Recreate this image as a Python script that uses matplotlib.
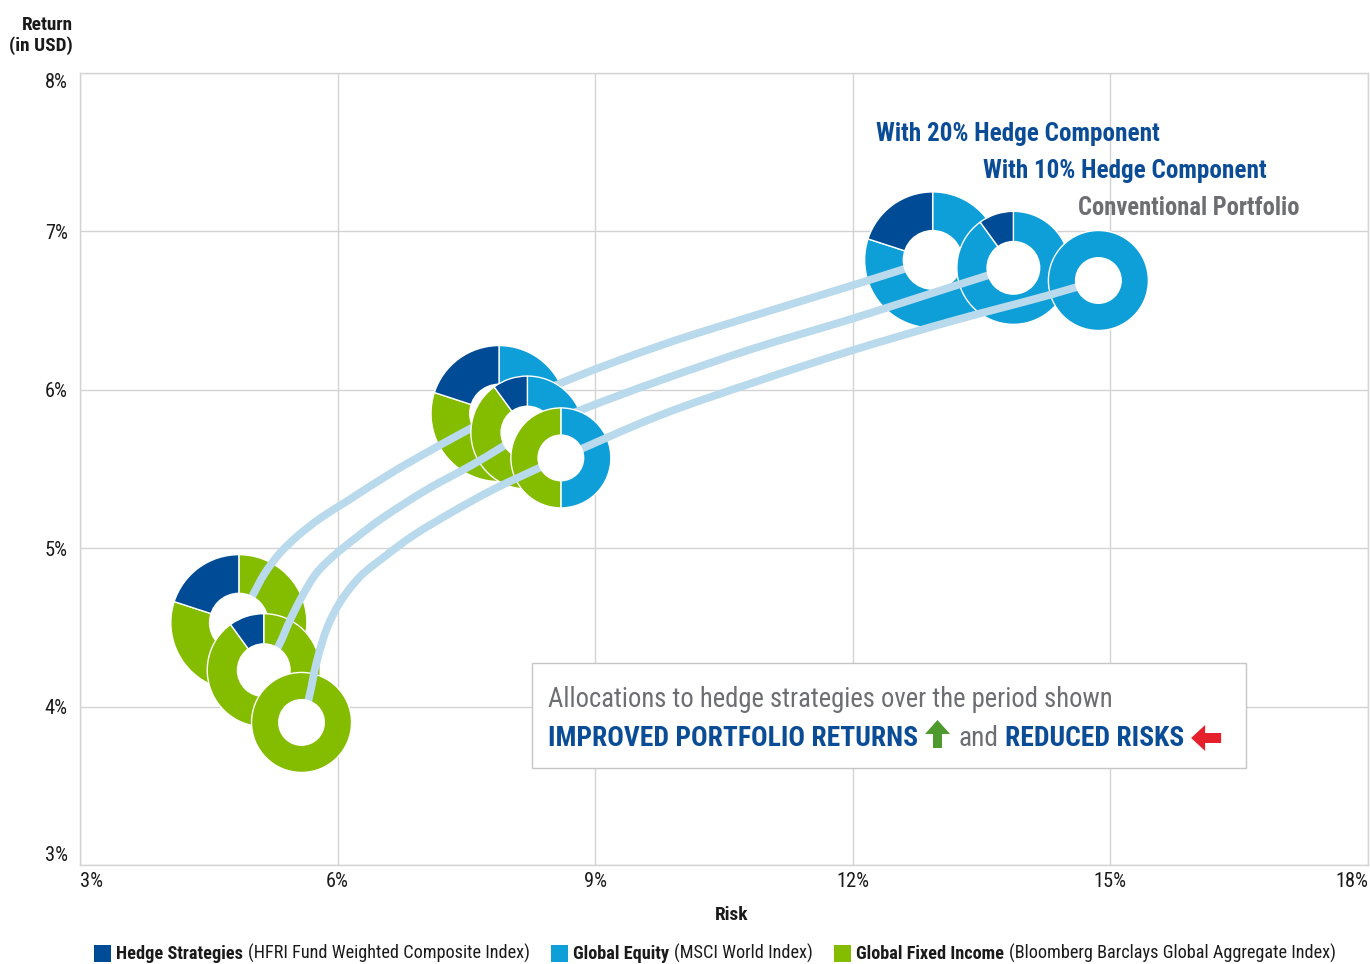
import numpy as np
import matplotlib
matplotlib.use('Agg')
import matplotlib.pyplot as plt
from matplotlib import font_manager as fm
from matplotlib.patches import Wedge, Circle, PathPatch, Rectangle, Polygon
from matplotlib.path import Path
from matplotlib.transforms import ScaledTranslation

# ---------------- data ----------------
x_ticks = [3, 6, 9, 12, 15, 18]
y_ticks = [3, 4, 5, 6, 7, 8]
x_label = 'Risk'
y_label = ['Return', '(in USD)']

asset_names = ['Global Equity', 'Global Fixed Income', 'Hedge Strategies']
legend_names = ['Hedge Strategies', 'Global Equity', 'Global Fixed Income']
legend_desc = ['(HFRI Fund Weighted Composite Index)', '(MSCI World Index)',
               '(Bloomberg Barclays Global Aggregate Index)']
portfolio_labels = ['With 20% Hedge Component', 'With 10% Hedge Component',
                    'Conventional Portfolio']
box_line1 = 'Allocations to hedge strategies over the period shown'
box_bold1 = 'IMPROVED PORTFOLIO RETURNS'
box_and = 'and'
box_bold2 = 'REDUCED RISKS'

# donut centres (risk %, return %) ; allocations = (equity, fixed income, hedge) %
risk_h20 = [4.85, 7.88, 12.93]
ret_h20 = [4.53, 5.85, 6.82]
alloc_h20 = [[0, 80, 20], [40, 40, 20], [80, 0, 20]]

risk_h10 = [5.14, 8.21, 13.87]
ret_h10 = [4.23, 5.73, 6.77]
alloc_h10 = [[0, 90, 10], [45, 45, 10], [90, 0, 10]]

risk_conv = [5.58, 8.60, 14.86]
ret_conv = [3.90, 5.57, 6.69]
alloc_conv = [[0, 100, 0], [50, 50, 0], [100, 0, 0]]

# connecting curves (risk %, return %)
curve_h20_risk = [4.85, 5.00, 5.15, 5.33, 5.54, 5.80, 6.09, 6.61, 7.19, 7.88,
                  8.59, 9.76, 10.92, 12.00, 12.93]
curve_h20_ret = [4.53, 4.69, 4.84, 4.97, 5.08, 5.19, 5.29, 5.47, 5.65, 5.85,
                 6.04, 6.28, 6.48, 6.66, 6.82]
curve_h10_risk = [5.14, 5.31, 5.45, 5.59, 5.75, 5.95, 6.20, 6.52, 7.04, 7.58, 8.21,
                  8.82, 9.76, 10.84, 12.00, 12.75, 13.56, 13.87]
curve_h10_ret = [4.23, 4.38, 4.55, 4.70, 4.84, 4.95, 5.06, 5.19, 5.37, 5.53, 5.73,
                 5.87, 6.06, 6.26, 6.45, 6.58, 6.72, 6.77]
curve_conv_risk = [5.58, 5.66, 5.76, 5.88, 6.03, 6.26, 6.53, 6.88, 7.34, 7.81, 8.36, 8.60,
                   9.76, 10.92, 12.00, 13.13, 14.30, 14.86]
curve_conv_ret = [3.90, 4.04, 4.29, 4.50, 4.66, 4.82, 4.94, 5.08, 5.23, 5.37, 5.51, 5.57,
                  5.84, 6.06, 6.25, 6.43, 6.60, 6.69]

# ---------------- styles ----------------
asset_colors = {'Global Equity': '#0e9fd8', 'Global Fixed Income': '#84bc00',
                'Hedge Strategies': '#004b96'}
LINE_COLOR = '#b9d9ec'
GRID = '#d3d3d3'
BLUE = '#0b4c97'
GRAY = '#6d6e71'
DARK = '#1a1a1a'

W, H, DPI = 1370, 964, 100

# font choice: prefer a condensed family
avail = {f.name for f in fm.fontManager.ttflist}
FK = None
for cand in ['Roboto Condensed', 'Liberation Sans Narrow', 'Noto Sans Condensed',
             'Open Sans Condensed', 'DejaVu Sans Condensed']:
    if cand in avail:
        FK = dict(family=cand)
        break
if FK is None:
    cond = [f.name for f in fm.fontManager.ttflist if 'condensed' in str(f.stretch)]
    if cond:
        FK = dict(family=cond[0], fontstretch='condensed')
    else:
        FK = dict(family='Liberation Sans')

fig = plt.figure(figsize=(W / DPI, H / DPI), dpi=DPI)
renderer = fig.canvas.get_renderer()


def fx(px):
    return px / W


def fy(py):
    return 1 - py / H


def text_width(s, size, weight):
    t = fig.text(0, 0, s, fontsize=size, fontweight=weight, **FK)
    w = t.get_window_extent(renderer).width
    t.remove()
    return w


def fit_size(s, weight, target, base=20):
    return base * target / text_width(s, base, weight)


def flow(items, x0, yb, size=20, target=None):
    def widths(sz):
        out = []
        for it in items:
            if it[0] == 't':
                out.append(text_width(it[1], sz, it[2]))
            else:
                out.append(it[1])
        return out
    if target is not None:
        ws = widths(size)
        tw = sum(w for it, w in zip(items, ws) if it[0] == 't')
        fixed = sum(w for it, w in zip(items, ws) if it[0] != 't')
        size = size * (target - fixed) / tw
    ws = widths(size)
    x = x0
    for it, w in zip(items, ws):
        if it[0] == 't':
            fig.text(fx(x), fy(yb), it[1], fontsize=size, fontweight=it[2], color=it[3],
                     ha='left', va='baseline', zorder=30, **FK)
        elif it[0] == 'a':
            it[2](x, yb)
        x += w
    return size


# ---------------- axes ----------------
ax = fig.add_axes([fx(80), 1 - 865 / H, (1368 - 80) / W, (865 - 73) / H])
ax.set_xlim(x_ticks[0], x_ticks[-1])
ax.set_ylim(y_ticks[0], y_ticks[-1])
ax.set_xticks(x_ticks)
ax.set_yticks(y_ticks)
ax.set_axisbelow(True)
ax.grid(True, color=GRID, lw=1.0)
for sp in ax.spines.values():
    sp.set_color(GRID)
    sp.set_linewidth(1.0)
ax.tick_params(length=0)

tick_size = fit_size('3%', 'normal', 23)
ax.set_xticklabels([f'{v}%' for v in x_ticks], fontsize=tick_size, color=DARK, **FK)
ax.set_yticklabels([f'{v}%' for v in y_ticks], fontsize=tick_size, color=DARK, **FK)
ax.tick_params(axis='x', pad=5)
ax.tick_params(axis='y', pad=9)
xl = ax.get_xticklabels()
xl[0].set_ha('left')
xl[-1].set_ha('right')
yl = ax.get_yticklabels()
yl[0].set_va('bottom')
yl[-1].set_va('top')


# ---------------- donuts & lines ----------------
def donut(cx, cy, alloc, r_px, rin_px, z):
    trans = fig.dpi_scale_trans + ScaledTranslation(cx, cy, ax.transData)
    r, rin = r_px / DPI, rin_px / DPI
    total = float(sum(alloc))
    theta = 90.0
    for frac, name in zip(alloc, asset_names):
        if frac <= 0:
            continue
        span = 360.0 * frac / total
        ax.add_patch(Wedge((0, 0), r, theta - span, theta, facecolor=asset_colors[name],
                           edgecolor='white', lw=1.0, transform=trans, zorder=z))
        theta -= span
    ax.add_patch(Circle((0, 0), rin, facecolor='white', edgecolor='none',
                        transform=trans, zorder=z + 2))


def curve(xs, ys, z):
    # chord-length Catmull-Rom, drawn as cubic Bezier path in display space
    P = ax.transData.transform(np.column_stack([xs, ys]))
    n = len(P)
    d = np.r_[0.0, np.cumsum(np.hypot(*np.diff(P, axis=0).T))]
    m = np.zeros_like(P)
    m[0] = (P[1] - P[0]) / (d[1] - d[0])
    m[-1] = (P[-1] - P[-2]) / (d[-1] - d[-2])
    for i in range(1, n - 1):
        m[i] = (P[i + 1] - P[i - 1]) / (d[i + 1] - d[i - 1])
    verts = [P[0]]
    codes = [Path.MOVETO]
    for i in range(n - 1):
        h = d[i + 1] - d[i]
        verts += [P[i] + m[i] * h / 3.0, P[i + 1] - m[i + 1] * h / 3.0, P[i + 1]]
        codes += [Path.CURVE4] * 3
    verts = ax.transData.inverted().transform(np.array(verts))
    ax.add_patch(PathPatch(Path(verts, codes), fill=False, edgecolor=LINE_COLOR, lw=5.6,
                           capstyle='round', joinstyle='round', zorder=z + 1))


series = [
    (risk_h20, ret_h20, alloc_h20, curve_h20_risk, curve_h20_ret, 68, 30),
    (risk_h10, ret_h10, alloc_h10, curve_h10_risk, curve_h10_ret, 56.5, 27),
    (risk_conv, ret_conv, alloc_conv, curve_conv_risk, curve_conv_ret, 50, 23.5),
]
for k, (rx, ry, al, cxs, cys, rp, rip) in enumerate(series):
    z = 3 + 3 * k
    for x, y, a in zip(rx, ry, al):
        donut(x, y, a, rp, rip, z)
    curve(cxs, cys, z)

# ---------------- axis titles ----------------
lab_size = fit_size(y_label[0], 'bold', 51)
fig.text(fx(73), fy(30), y_label[0], fontsize=lab_size, fontweight='bold', color=DARK,
         ha='right', va='baseline', **FK)
fig.text(fx(73), fy(51), y_label[1], fontsize=lab_size, fontweight='bold', color=DARK,
         ha='right', va='baseline', **FK)
fig.text(fx(732), fy(920), x_label, fontsize=lab_size, fontweight='bold', color=DARK,
         ha='center', va='baseline', **FK)

# ---------------- portfolio labels ----------------
head_pos = [(876, 141, BLUE), (983, 178, BLUE), (1078, 215, GRAY)]
for lab, (px, pb, col) in zip(portfolio_labels, head_pos):
    sz = fit_size(lab, 'bold', 1158 - 876 if col == BLUE else 1299 - 1078)
    fig.text(fx(px), fy(pb), lab, fontsize=sz, fontweight='bold', color=col,
             ha='left', va='baseline', zorder=30, **FK)

# ---------------- message box ----------------
fig.add_artist(Rectangle((fx(532), fy(768)), (1246 - 532) / W, (768 - 663) / H,
                         transform=fig.transFigure, facecolor='white', edgecolor='#c6c6c6',
                         lw=1.0, zorder=25))
sz1 = fit_size(box_line1, 'normal', 1112 - 548)
fig.text(fx(548), fy(707), box_line1, fontsize=sz1, color=GRAY, ha='left', va='baseline',
         zorder=30, **FK)


def up_arrow(x, yb):
    pts = [(x + 8, yb + 2), (x + 8, yb - 12), (x, yb - 12), (x + 12.5, yb - 26),
           (x + 25, yb - 12), (x + 17, yb - 12), (x + 17, yb + 2)]
    fig.add_artist(Polygon([(fx(a), fy(b)) for a, b in pts], closed=True,
                           transform=fig.transFigure, facecolor='#4e9a2e',
                           edgecolor='none', zorder=30))


def left_arrow(x, yb):
    pts = [(x, yb - 8), (x + 14, yb - 21), (x + 14, yb - 13), (x + 30, yb - 13),
           (x + 30, yb - 3), (x + 14, yb - 3), (x + 14, yb + 5)]
    fig.add_artist(Polygon([(fx(a), fy(b)) for a, b in pts], closed=True,
                           transform=fig.transFigure, facecolor='#e5202a',
                           edgecolor='none', zorder=30))


flow([('t', box_bold1, 'bold', BLUE), ('g', 7), ('a', 25, up_arrow), ('g', 8),
      ('t', box_and, 'normal', GRAY), ('g', 7), ('t', box_bold2, 'bold', BLUE),
      ('g', 7), ('a', 30, left_arrow)], 548, 746, target=1220 - 548)


# ---------------- legend ----------------
def square(color):
    def draw(x, yb):
        fig.add_artist(Rectangle((fx(x), fy(yb + 3)), 17 / W, 17 / H,
                                 transform=fig.transFigure, facecolor=color,
                                 edgecolor='none', zorder=30))
    return draw


items = []
for i, (nm, ds) in enumerate(zip(legend_names, legend_desc)):
    if i > 0:
        items.append(('g', 21))
    items += [('a', 17, square(asset_colors[nm])), ('g', 5), ('t', nm, 'bold', DARK),
              ('g', 5), ('t', ds, 'normal', DARK)]
flow(items, 94, 959, target=1338 - 94)

fig.savefig('out.png', dpi=DPI)
